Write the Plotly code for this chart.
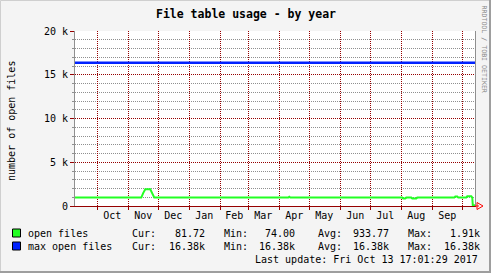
import plotly.graph_objects as go

# ---------------- data ----------------
range_start = "2016-09-08 17:01:29"
range_end = "2017-10-13 17:01:29"

open_dates = ["2016-09-08 17:00", "2016-11-14", "2016-11-16", "2016-11-18", "2016-11-23",
              "2016-11-25", "2016-11-27", "2017-04-10", "2017-04-11", "2017-04-12",
              "2017-08-02", "2017-08-03", "2017-08-05", "2017-08-06", "2017-08-11",
              "2017-08-12", "2017-08-16", "2017-08-17", "2017-09-23", "2017-09-24",
              "2017-09-26", "2017-09-27", "2017-10-05", "2017-10-06", "2017-10-10",
              "2017-10-11", "2017-10-11 12:00", "2017-10-13 17:00"]
open_vals = [960, 960, 1500, 1910, 1910,
             1500, 960, 960, 1050, 960,
             960, 870, 870, 960, 960,
             870, 870, 960, 960, 1080,
             1080, 960, 960, 1120, 1120,
             960, 74, 81.72]

max_dates = ["2016-09-08 17:01:29", "2017-10-13 17:01:29"]
max_vals = [16384, 16384]

month_starts = ["2016-10-01", "2016-11-01", "2016-12-01", "2017-01-01", "2017-02-01",
                "2017-03-01", "2017-04-01", "2017-05-01", "2017-06-01", "2017-07-01",
                "2017-08-01", "2017-09-01", "2017-10-01"]
month_mids = ["2016-10-16", "2016-11-16", "2016-12-16", "2017-01-16", "2017-02-15",
              "2017-03-16", "2017-04-16", "2017-05-16", "2017-06-16", "2017-07-16",
              "2017-08-16", "2017-09-16"]
month_labels = ["Oct", "Nov", "Dec", "Jan", "Feb", "Mar", "Apr", "May", "Jun", "Jul",
                "Aug", "Sep"]

y_ticks = [0, 5000, 10000, 15000, 20000]
y_ticktext = ["0", "5 k", "10 k", "15 k", "20 k"]

series_names = ["open files", "max open files"]
series_colors = ["#22ff22", "#0022ff"]
cur_vals = ["81.72", "16.38k"]
min_vals = ["74.00", "16.38k"]
avg_vals = ["933.77", "16.38k"]
maxs_vals = ["1.91k", "16.38k"]
last_update = "Last update: Fri Oct 13 17:01:29 2017"

# ---------------- layout helpers ----------------
W, H = 491, 273
L, R, T, B = 75, 475, 31, 206
MONO = "DejaVu Sans Mono"
GRID = "#8f8f8f"
MGRID = "#960000"


def px(xp):
    return (xp - L) / (R - L)


def py(yp):
    return (B - yp) / (B - T)


fig = go.Figure()
fig.add_trace(go.Scatter(x=max_dates, y=max_vals, mode="lines",
                         line=dict(color=series_colors[1], width=2.5),
                         hoverinfo="skip", showlegend=False))
fig.add_trace(go.Scatter(x=open_dates, y=open_vals, mode="lines",
                         line=dict(color=series_colors[0], width=2),
                         hoverinfo="skip", showlegend=False))
fig.add_trace(go.Scatter(x=[range_start, range_end], y=[0, 0], xaxis="x2",
                         mode="markers", marker=dict(opacity=0),
                         hoverinfo="skip", showlegend=False))

shapes = []
# frame
shapes.append(dict(type="line", xref="paper", yref="paper", x0=px(0.5), x1=px(W - 0.5),
                   y0=py(0.5), y1=py(0.5), line=dict(color="#cfcfcf", width=1)))
shapes.append(dict(type="line", xref="paper", yref="paper", x0=px(0.5), x1=px(0.5),
                   y0=py(0.5), y1=py(H - 0.5), line=dict(color="#cfcfcf", width=1)))
shapes.append(dict(type="line", xref="paper", yref="paper", x0=px(0), x1=px(W),
                   y0=py(H - 1), y1=py(H - 1), line=dict(color="#9e9e9e", width=2)))
shapes.append(dict(type="line", xref="paper", yref="paper", x0=px(W - 1), x1=px(W - 1),
                   y0=py(0), y1=py(H), line=dict(color="#9e9e9e", width=2)))
# arrow at end of x axis
shapes.append(dict(type="line", xref="paper", yref="paper", x0=px(R), x1=px(479),
                   y0=py(B), y1=py(B), line=dict(color="#ff0000", width=1)))
shapes.append(dict(type="path", xref="paper", yref="paper",
                   path=f"M {px(477)},{py(202.5)} L {px(483)},{py(206)} L {px(477)},{py(209.5)} Z",
                   line=dict(color="#ff0000", width=1), fillcolor="rgba(0,0,0,0)"))
# legend swatches
row_y = [233, 246]
for i, c in enumerate(series_colors):
    shapes.append(dict(type="rect", xref="paper", yref="paper",
                       x0=px(12.5), x1=px(20.5), y0=py(row_y[i] - 4), y1=py(row_y[i] + 4),
                       fillcolor=c, line=dict(color="#000000", width=1)))

ann = []
ann.append(dict(text="<b>File table usage - by year</b>", xref="paper", yref="paper",
                x=px(245.5), y=py(14.5), xanchor="center", yanchor="middle", showarrow=False,
                font=dict(family=MONO, size=11.5, color="#000000")))
ann.append(dict(text="number of open files", xref="paper", yref="paper",
                x=px(12), y=py(121), xanchor="center", yanchor="middle", showarrow=False,
                textangle=-90, font=dict(family=MONO, size=10, color="#000000")))
ann.append(dict(text="RRDTOOL / TOBI OETIKER", xref="paper", yref="paper",
                x=px(484), y=py(48.5), xanchor="center", yanchor="middle", showarrow=False,
                textangle=90, font=dict(family=MONO, size=6.6, color="#8a8a8a")))


def txt(s, x, y, anchor):
    ann.append(dict(text=s, xref="paper", yref="paper", x=px(x), y=py(y),
                    xanchor=anchor, yanchor="middle", showarrow=False,
                    font=dict(family=MONO, size=10, color="#000000")))


for i in range(2):
    y = row_y[i]
    txt(series_names[i], 26, y, "left")
    txt("Cur:", 130, y, "left")
    txt(cur_vals[i], 207, y, "right")
    txt("Min:", 222, y, "left")
    txt(min_vals[i], 297, y, "right")
    txt("Avg:", 316, y, "left")
    txt(avg_vals[i], 391, y, "right")
    txt("Max:", 406, y, "left")
    txt(maxs_vals[i], 482, y, "right")
txt(last_update, 480, 259, "right")

fig.update_layout(
    width=W, height=H,
    margin=dict(l=L, r=W - R, t=T, b=H - B, pad=0),
    paper_bgcolor="#f4f4f4", plot_bgcolor="#ffffff",
    showlegend=False,
    shapes=shapes, annotations=ann,
    xaxis=dict(type="date", range=[range_start, range_end],
               tickmode="array", tickvals=month_starts, showticklabels=False,
               ticks="outside", ticklen=3, tickcolor=MGRID,
               showgrid=True, gridcolor=MGRID, griddash="1px,1px", gridwidth=1,
               showline=True, linecolor=MGRID, linewidth=1,
               zeroline=False, fixedrange=True),
    xaxis2=dict(type="date", range=[range_start, range_end], overlaying="x",
                anchor="y", side="bottom",
                tickmode="array", tickvals=month_mids, ticktext=month_labels,
                ticks="", showgrid=False, showline=False, zeroline=False,
                ticklabelstandoff=2,
                tickfont=dict(family=MONO, size=10, color="#000000")),
    yaxis=dict(range=[0, 20000], tickmode="array", tickvals=y_ticks, ticktext=y_ticktext,
               ticks="outside", ticklen=4, tickcolor=MGRID,
               showgrid=True, gridcolor=MGRID, griddash="1px,1px", gridwidth=1,
               minor=dict(dtick=1000, tick0=0, ticks="outside", ticklen=2, tickcolor=GRID,
                          showgrid=True, gridcolor=GRID, griddash="1px,1px", gridwidth=1),
               showline=True, linecolor=GRID, linewidth=1, mirror=True,
               zeroline=False, fixedrange=True,
               tickfont=dict(family=MONO, size=10, color="#000000")),
)

fig.write_html("out.html")
